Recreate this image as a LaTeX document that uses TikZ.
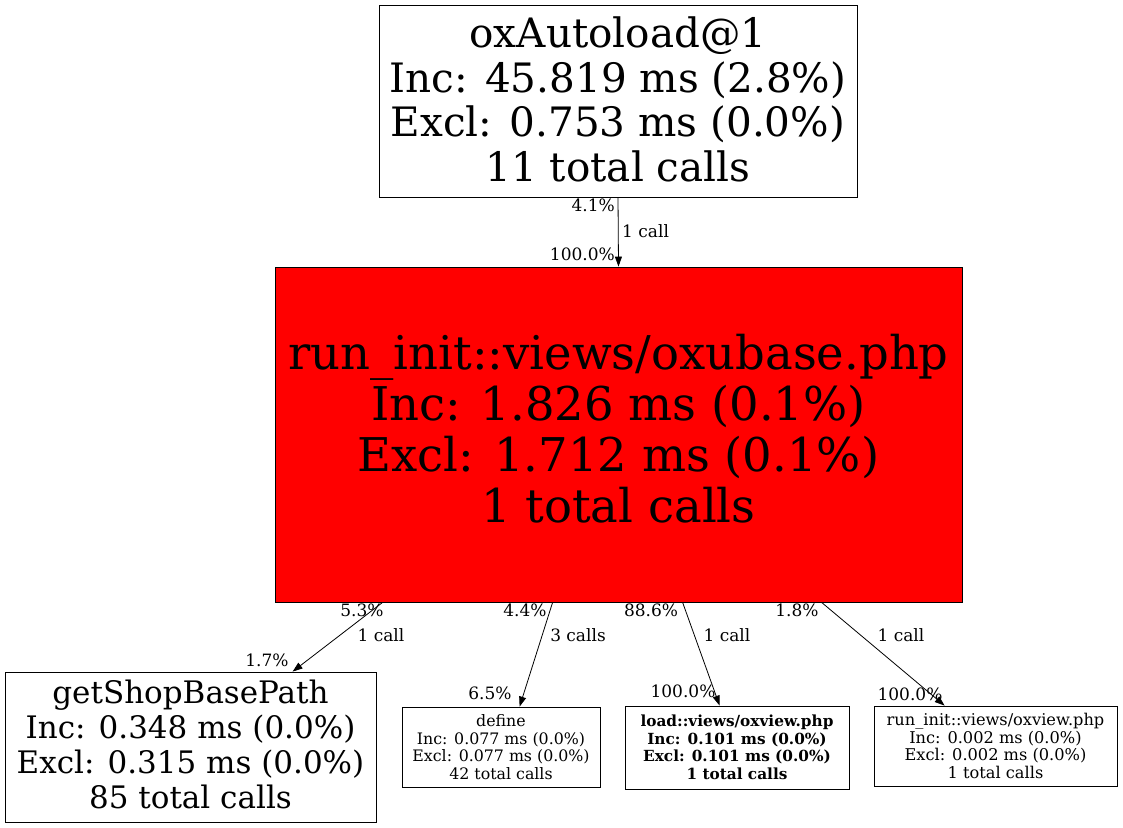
\documentclass[tikz,border=0pt]{standalone}
\usepackage{fontspec}
\setmainfont{DejaVu Serif}
\usepackage{tikz}
\usetikzlibrary{arrows.meta, calc}
\tikzstyle{fn} = [rectangle, draw=black, line width=0.8pt, inner sep=0pt, text centered, align=center]
\tikzstyle{hot} = [fn, fill=red]
\tikzstyle{edge} = [line width=0.8pt, ->, >={Triangle[length=10pt,width=7pt]}]
\tikzstyle{pct} = [inner sep=0pt, font=\fontsize{17}{20}\selectfont]
\newcommand{\fnsize}[2]{\fontsize{#1}{#2}\selectfont}

\begin{document}
\begin{tikzpicture}[x=1pt, y=-1pt]
  \useasboundingbox (0,0) rectangle (1123,827);
  \node (autoload) [fn, minimum width=478, minimum height=192, text depth=4pt, font=\fnsize{40.5}{44.5}] at (618,101) {oxAutoload@1\\ Inc: 45.819 ms (2.8\%)\\ Excl: 0.753 ms (0.0\%)\\ 11 total calls};
  \node (oxubase) [hot, minimum width=687, minimum height=335, text depth=12pt, font=\fnsize{46.5}{51}] at (618.5,434.5) {run\_init::views/oxubase.php\\ Inc: 1.826 ms (0.1\%)\\ Excl: 1.712 ms (0.1\%)\\ 1 total calls};
  \node (shoppath) [fn, minimum width=371, minimum height=150, text depth=6pt, font=\fnsize{31}{35}] at (190.5,747) {getShopBasePath\\ Inc: 0.348 ms (0.0\%)\\ Excl: 0.315 ms (0.0\%)\\ 85 total calls};
  \node (define) [fn, minimum width=198, minimum height=80, font=\fnsize{15.8}{17.5}] at (501,747) {define\\ Inc: 0.077 ms (0.0\%)\\ Excl: 0.077 ms (0.0\%)\\ 42 total calls};
  \node (oxviewload) [fn, minimum width=224, minimum height=83, font=\fnsize{15.3}{17.5}\bfseries] at (737,747.5) {load::views/oxview.php\\ Inc: 0.101 ms (0.0\%)\\ Excl: 0.101 ms (0.0\%)\\ 1 total calls};
  \node (oxviewinit) [fn, minimum width=243, minimum height=80, font=\fnsize{16.2}{17.5}] at (995.5,746) {run\_init::views/oxview.php\\ Inc: 0.002 ms (0.0\%)\\ Excl: 0.002 ms (0.0\%)\\ 1 total calls};

  \draw [edge] (autoload.south) -- (oxubase.north);
  \draw [edge] ($(oxubase.south west)+(108,0)$) -- ($(shoppath.north west)+(288,0)$);
  \draw [edge] ($(oxubase.south west)+(278,0)$) -- ($(define.north west)+(118,0)$);
  \draw [edge] ($(oxubase.south west)+(408,0)$) -- ($(oxviewload.north west)+(95,0)$);
  \draw [edge] ($(oxubase.south west)+(547,0)$) -- ($(oxviewinit.north west)+(71,0)$);

  % edge labels
  \node (t1) [pct, anchor=east] at (615,205) {4.1\%};
  \node (m1) [pct, anchor=west] at (622,231) {1 call};
  \node (h1) [pct, anchor=east] at (615,254) {100.0\%};
  \node (t2) [pct] at (362,610) {5.3\%};
  \node (m2) [pct] at (381,635) {1 call};
  \node (h2) [pct] at (267,660) {1.7\%};
  \node (t3) [pct] at (525,610) {4.4\%};
  \node (m3) [pct] at (578,635) {3 calls};
  \node (h3) [pct] at (490,693) {6.5\%};
  \node (t4) [pct] at (651,610) {88.6\%};
  \node (m4) [pct] at (727,635) {1 call};
  \node (h4) [pct] at (683,691) {100.0\%};
  \node (t5) [pct] at (797,610) {1.8\%};
  \node (m5) [pct] at (901,635) {1 call};
  \node (h5) [pct] at (910,694) {100.0\%};
\end{tikzpicture}
\end{document}
